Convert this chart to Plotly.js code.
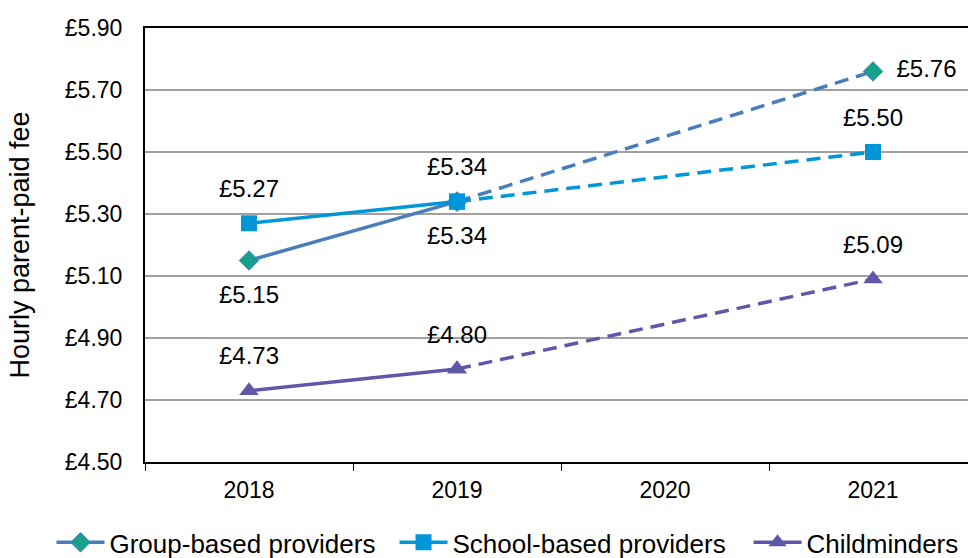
<!DOCTYPE html>
<html><head><meta charset="utf-8">
<script src="https://cdn.plot.ly/plotly-3.0.1.min.js"></script>
<style>html,body{margin:0;padding:0;overflow:hidden;background:#fff}#chart{width:1100px;height:558px}</style>
</head><body><div id="chart"></div>
<script>
const years = ['2018', '2019', '2020', '2021'];
const groupBased = [5.15, 5.34, null, 5.76];
const schoolBased = [5.27, 5.34, null, 5.50];
const childminders = [4.73, 4.80, null, 5.09];
const seriesNames = ['Group-based providers', 'School-based providers', 'Childminders'];
const yTickVals = [4.5, 4.7, 4.9, 5.1, 5.3, 5.5, 5.7, 5.9];
const yAxisTitle = 'Hourly parent-paid fee';
const POUND = '\u00A3';
const yTickText = yTickVals.map(function (v) { return POUND + v.toFixed(2); });

const FONT = 'Liberation Sans, Arial, sans-serif';
const styles = [
  {line: '#4A7EBB', marker: {symbol: 'diamond', size: 15, color: '#17A08C', line: {color: '#4A7EBB', width: 1}}, labelPos: ['bottom center', 'bottom center', 'middle right'], legend: 'legend', legendX: -0.1124},
  {line: '#0096D8', marker: {symbol: 'square', size: 16, color: '#0096D8'}, labelPos: ['top center', 'top center', 'top center'], legend: 'legend2', legendX: 0.2999},
  {line: '#5F58A9', marker: {symbol: 'triangle-up', size: 17, color: '#5F58A9'}, labelPos: ['top center', 'top center', 'top center'], legend: 'legend3', legendX: 0.7254}
];
const labelGap = {'top center': 31, 'bottom center': 38, 'middle right': 36};
const allSeries = [groupBased, schoolBased, childminders];

const traces = [];
const labelTraces = [];
allSeries.forEach(function (vals, si) {
  const st = styles[si];
  const idx = vals.map(function (v, i) { return v == null ? -1 : i; }).filter(function (i) { return i >= 0; });
  const solidIdx = idx.slice(0, 2);
  const dashIdx = idx.slice(1);
  traces.push({
    x: dashIdx.map(function (i) { return years[i]; }), y: dashIdx.map(function (i) { return vals[i]; }),
    type: 'scatter', mode: 'lines+markers', showlegend: false, hoverinfo: 'skip',
    line: {color: st.line, width: 3.5, dash: '14px,8px'}, marker: st.marker
  });
  traces.push({
    x: solidIdx.map(function (i) { return years[i]; }), y: solidIdx.map(function (i) { return vals[i]; }),
    type: 'scatter', mode: 'lines+markers', name: seriesNames[si], legend: st.legend,
    line: {color: st.line, width: 3.5}, marker: st.marker
  });
  labelTraces.push({
    x: idx.map(function (i) { return years[i]; }), y: idx.map(function (i) { return vals[i]; }),
    text: idx.map(function (i) { return POUND + vals[i].toFixed(2); }),
    type: 'scatter', mode: 'markers+text', showlegend: false, hoverinfo: 'skip', cliponaxis: false,
    textposition: st.labelPos,
    textfont: {family: FONT, size: 24, color: '#000000'},
    marker: {size: st.labelPos.map(function (p) { return labelGap[p]; }), opacity: 0, color: '#ffffff'}
  });
});

function legendOf(x) {
  return {
    orientation: 'h', x: x, xanchor: 'left', y: -0.1854, yanchor: 'middle',
    font: {family: FONT, size: 26}, itemwidth: 48, bgcolor: 'rgba(0,0,0,0)'
  };
}

const layout = {
  width: 1100, height: 558,
  margin: {l: 145, r: 123, t: 28, b: 96, autoexpand: false},
  paper_bgcolor: '#fff', plot_bgcolor: '#fff',
  font: {family: FONT, color: '#000'},
  xaxis: {
    type: 'category', categoryorder: 'array', categoryarray: years,
    range: [-0.5, 3.5], tickson: 'boundaries', ticks: 'outside', ticklen: 7, tickwidth: 1, tickcolor: '#000',
    showline: true, linecolor: '#000', linewidth: 2, mirror: true, showgrid: false,
    tickfont: {family: FONT, size: 23}, ticklabelstandoff: 6, fixedrange: true
  },
  yaxis: {
    range: [4.5, 5.9], tickvals: yTickVals, ticktext: yTickText,
    showline: true, linecolor: '#000', linewidth: 2, ticks: '', ticklabelstandoff: 16,
    showgrid: true, gridcolor: '#A0A0A0', gridwidth: 1.5, zeroline: false,
    tickfont: {family: FONT, size: 23},
    title: {text: yAxisTitle + '\u00A0\u00A0\u00A0\u00A0\u00A0', font: {family: FONT, size: 27}, standoff: 27}
  },
  legend: legendOf(styles[0].legendX),
  legend2: legendOf(styles[1].legendX),
  legend3: legendOf(styles[2].legendX),
  showlegend: true
};
Plotly.newPlot('chart', traces.concat(labelTraces), layout, {displayModeBar: false, staticPlot: true});
</script></body></html>
